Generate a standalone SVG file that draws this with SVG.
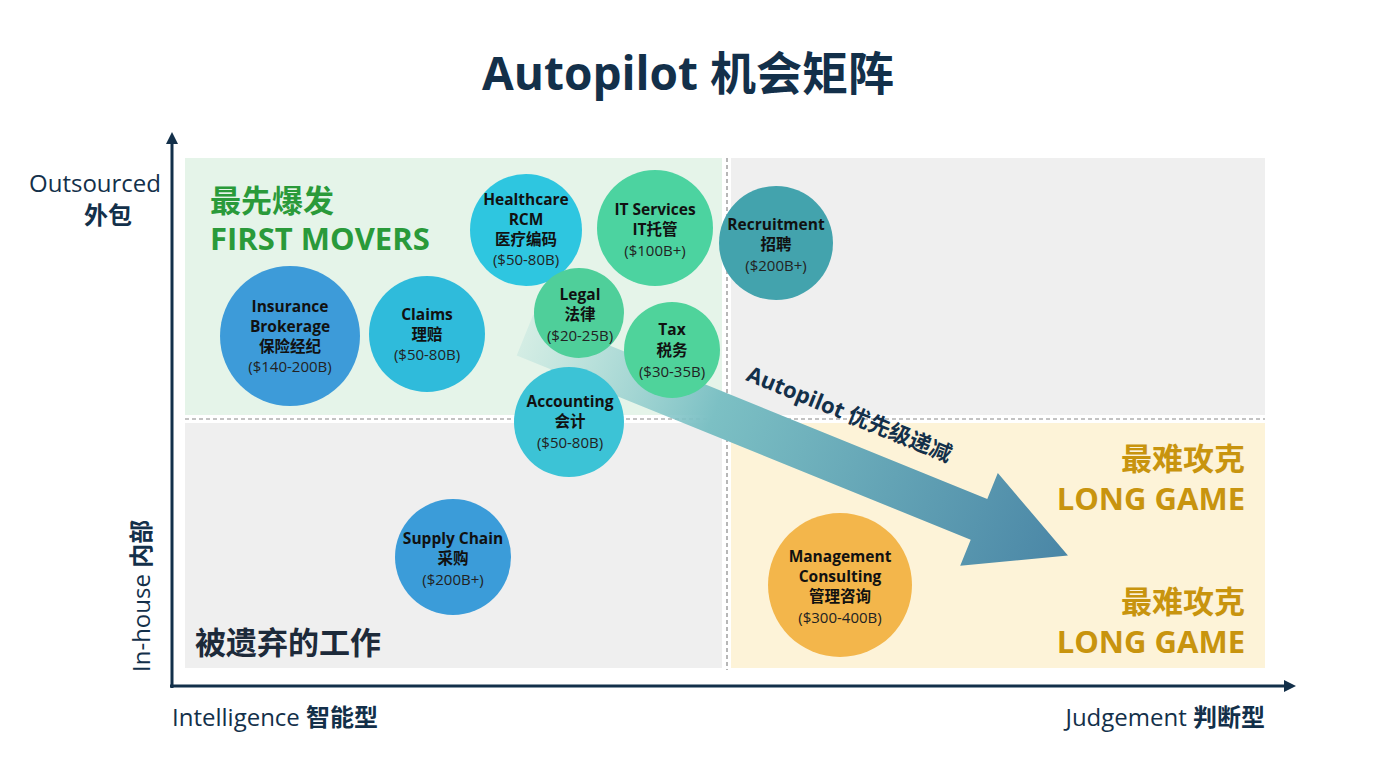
<svg xmlns="http://www.w3.org/2000/svg" width="1376" height="768" viewBox="0 0 1376 768">
<defs>
<style>
text{font-family:"Open Sans","Noto Sans","Noto Sans CJK SC",sans-serif;}
.t{font-weight:700;font-size:15.5px;fill:#111;text-anchor:middle}
.v{font-size:15px;fill:#222;text-anchor:middle}
.q{fill:none;stroke:#888;stroke-width:1.2;stroke-dasharray:4 3}
.ax{stroke:#13304a;stroke-width:3;fill:none}
.big{font-weight:700;font-size:31px}
.gold{fill:#c8940e;text-anchor:end}
.al{font-size:24px;fill:#13304a}
</style>
<linearGradient id="ag" x1="0" y1="0" x2="1" y2="0">
<stop offset="0" stop-color="#8fd0cf" stop-opacity="0.2"/>
<stop offset="0.35" stop-color="#7cc0c4"/>
<stop offset="1" stop-color="#4a86a6"/>
</linearGradient>
<marker id="ah" markerWidth="12" markerHeight="12" refX="6" refY="6" orient="auto" markerUnits="userSpaceOnUse"><path d="M0,0 L12,6 L0,12 Z" fill="#13304a"/></marker>
</defs>
<rect width="1376" height="768" fill="#fff"/>
<text x="688" y="90" font-size="46" font-weight="700" fill="#13304a" text-anchor="middle">Autopilot 机会矩阵</text>
<g id="quadrants">
<rect x="185" y="158" width="537" height="257" fill="#e5f4e9"/>
<rect x="731" y="158" width="534" height="257" fill="#efefef"/>
<rect x="185" y="423" width="537" height="245" fill="#efefef"/>
<rect x="731" y="423" width="534" height="245" fill="#fdf3d8"/>
<line class="q" x1="727" y1="158" x2="727" y2="670"/>
<line class="q" x1="185" y1="419" x2="1265" y2="419"/>
</g>
<g id="axes">
<line class="ax" x1="172" y1="688" x2="172" y2="138" marker-end="url(#ah)"/>
<line class="ax" x1="170" y1="686" x2="1290" y2="686" marker-end="url(#ah)"/>
<text x="95" y="192" class="al" text-anchor="middle">Outsourced</text>
<text x="108" y="224" class="al" font-weight="700" text-anchor="middle">外包</text>
<text transform="translate(150,672) rotate(-90)" class="al">In-house <tspan font-weight="700">内部</tspan></text>
<text x="172" y="726" class="al">Intelligence <tspan font-weight="700">智能型</tspan></text>
<text x="1265" y="726" class="al" text-anchor="end">Judgement <tspan font-weight="700">判断型</tspan></text>
</g>
<g id="labels">
<text x="210" y="212" class="big" fill="#2a9a3a">最先爆发</text>
<text x="210" y="250" class="big" fill="#2a9a3a" font-size="29">FIRST MOVERS</text>
<text x="1245" y="470" class="big gold">最难攻克</text>
<text x="1245" y="510" class="big gold" font-size="27">LONG GAME</text>
<text x="1245" y="613" class="big gold">最难攻克</text>
<text x="1245" y="653" class="big gold" font-size="27">LONG GAME</text>
<text x="195" y="654" class="big" fill="#1d2a3a">被遗弃的工作</text>
</g>
<g id="connectors">
<g transform="translate(525,335) rotate(22.1)">
<path d="M0,-22 L490,-22 L490,-50 L586,0 L490,50 L490,22 L0,22 Z" fill="url(#ag)"/>
</g>
<text transform="translate(745,380) rotate(22.1)" font-size="22" font-weight="700" fill="#13304a">Autopilot 优先级递减</text>
</g>
<g id="n-insurance"><circle cx="290" cy="336" r="70" fill="#3d9bd9"/><text class="t" x="290" y="312">Insurance</text><text class="t" x="290" y="332">Brokerage</text><text class="t" x="290" y="352">保险经纪</text><text class="v" x="290" y="372">($140-200B)</text></g>
<g id="n-claims"><circle cx="427" cy="334" r="58" fill="#2fbbdb"/><text class="t" x="427" y="320">Claims</text><text class="t" x="427" y="340">理赔</text><text class="v" x="427" y="360">($50-80B)</text></g>
<g id="n-rcm"><circle cx="526" cy="230" r="56" fill="#2ec6e0"/><text class="t" x="526" y="205">Healthcare</text><text class="t" x="526" y="225">RCM</text><text class="t" x="526" y="245">医疗编码</text><text class="v" x="526" y="265">($50-80B)</text></g>
<g id="n-it"><circle cx="655" cy="228" r="58" fill="#4cd3a0"/><text class="t" x="655" y="215">IT Services</text><text class="t" x="655" y="235">IT托管</text><text class="v" x="655" y="256">($100B+)</text></g>
<g id="n-recruit"><circle cx="776" cy="243" r="57" fill="#43a3ad"/><text class="t" x="776" y="230">Recruitment</text><text class="t" x="776" y="250">招聘</text><text class="v" x="776" y="271">($200B+)</text></g>
<g id="n-legal"><circle cx="579" cy="313" r="45" fill="#4fcf9a"/><text class="t" x="580" y="300">Legal</text><text class="t" x="580" y="320">法律</text><text class="v" x="580" y="341">($20-25B)</text></g>
<g id="n-tax"><circle cx="672" cy="350" r="48" fill="#4fd39b"/><text class="t" x="672" y="335">Tax</text><text class="t" x="672" y="356">税务</text><text class="v" x="672" y="377">($30-35B)</text></g>
<g id="n-acct"><circle cx="569" cy="422" r="55" fill="#3cc3d6"/><text class="t" x="570" y="407">Accounting</text><text class="t" x="570" y="427">会计</text><text class="v" x="570" y="448">($50-80B)</text></g>
<g id="n-supply"><circle cx="453" cy="557" r="58" fill="#3b9cd9"/><text class="t" x="453" y="544">Supply Chain</text><text class="t" x="453" y="564">采购</text><text class="v" x="453" y="585">($200B+)</text></g>
<g id="n-mgmt"><circle cx="840" cy="585" r="72" fill="#f3b64b"/><text class="t" x="840" y="562">Management</text><text class="t" x="840" y="582">Consulting</text><text class="t" x="840" y="602">管理咨询</text><text class="v" x="840" y="623">($300-400B)</text></g>
</svg>
